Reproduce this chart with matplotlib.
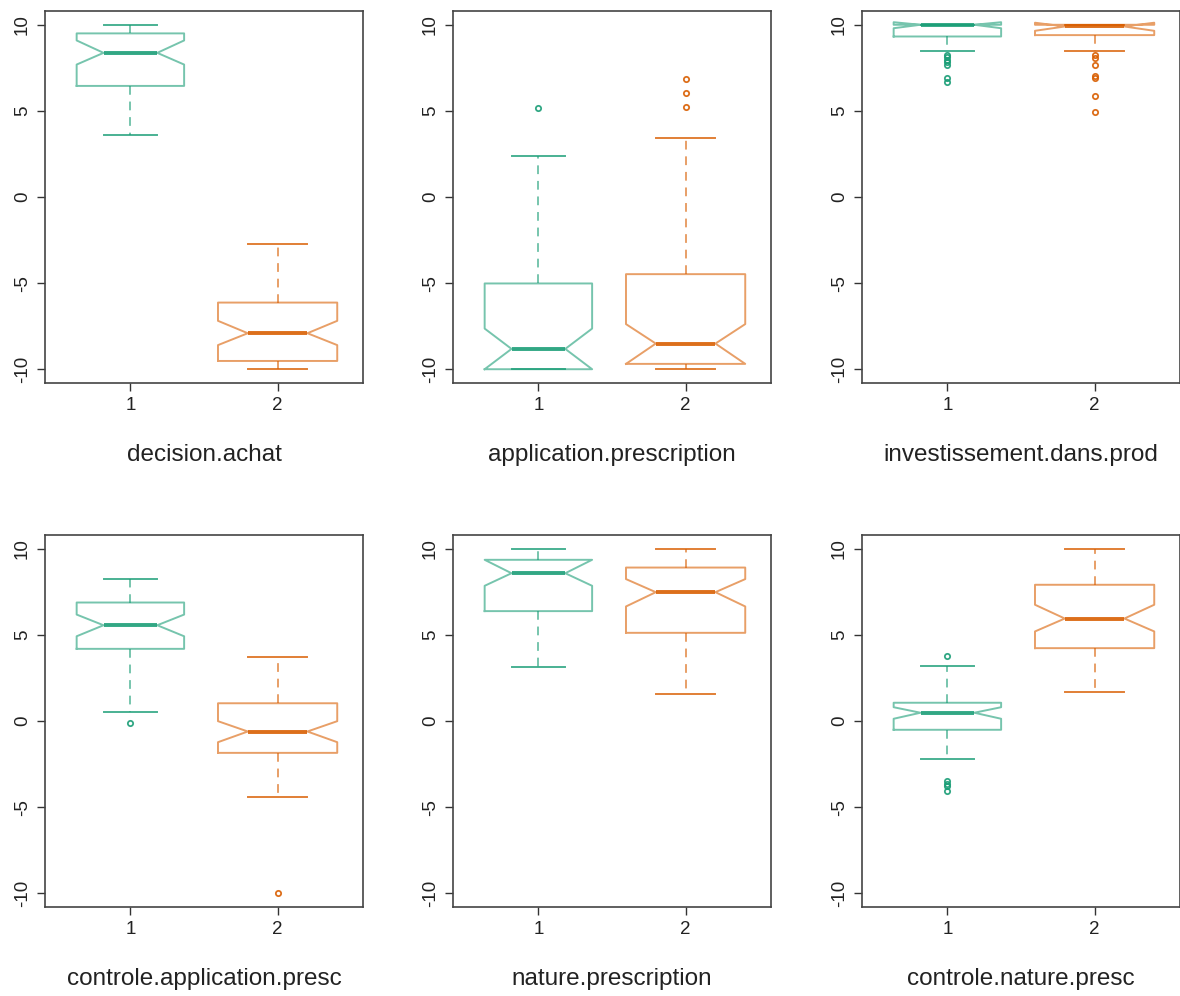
import matplotlib.pyplot as plt
import matplotlib.colors as mcolors

plt.rcParams['font.family'] = ['Liberation Sans', 'DejaVu Sans']

# panel names, in reading order
variables = ['decision.achat', 'application.prescription', 'investissement.dans.prod',
             'controle.application.presc', 'nature.prescription', 'controle.nature.presc']

# box statistics: [group 1, group 2]
medians = [[8.37, -7.91], [-8.82, -8.51], [10.0, 9.9],
           [5.56, -0.61], [8.58, 7.48], [0.48, 5.95]]
q1s = [[6.45, -9.52], [-10.0, -9.69], [9.32, 9.4],
       [4.19, -1.85], [6.38, 5.12], [-0.51, 4.23]]
q3s = [[9.5, -6.13], [-5.02, -4.48], [10.0, 10.0],
       [6.88, 1.03], [9.36, 8.91], [1.06, 7.91]]
whis_lo = [[3.58, -10.0], [-10.0, -10.0], [8.47, 8.47],
           [0.55, -4.40], [3.11, 1.58], [-2.22, 1.67]]
whis_hi = [[10.0, -2.71], [2.40, 3.43], [10.0, 10.0],
           [8.26, 3.71], [10.0, 10.0], [3.18, 10.0]]
notch_lo = [[7.69, -8.6], [-10.0, -9.69], [9.8, 9.65],
            [4.92, -1.23], [7.85, 6.65], [0.13, 5.2]]
notch_hi = [[9.09, -7.19], [-7.64, -7.38], [10.15, 10.12],
            [6.18, -0.01], [9.36, 8.24], [0.8, 6.75]]
outliers = [
    [[], []],
    [[5.17], [6.86, 6.06, 5.25]],
    [[8.22, 8.1, 7.95, 7.85, 7.67, 6.9, 6.66], [8.22, 8.06, 7.67, 7.0, 6.9, 5.85, 4.96]],
    [[-0.10], [-10.0]],
    [[], []],
    [[3.76, -3.51, -3.65, -3.75, -4.09], []],
]

groups = [1, 2]
box_widths = [0.73, 0.81]
colors = ['#1b9e77', '#d95f02']

W, H = 1180, 996
fig = plt.figure(figsize=(W / 100, H / 100), dpi=100)

lefts = [45, 453, 862]
tops = [11, 535]
aw, ah = 318, 372

for i, name in enumerate(variables):
    r, c = divmod(i, 3)
    ax = fig.add_axes([lefts[c] / W, 1 - (tops[r] + ah) / H, aw / W, ah / H])
    stats = []
    for g in range(2):
        stats.append(dict(med=medians[i][g], q1=q1s[i][g], q3=q3s[i][g],
                          whislo=whis_lo[i][g], whishi=whis_hi[i][g],
                          cilo=notch_lo[i][g], cihi=notch_hi[i][g],
                          fliers=outliers[i][g]))
    bp = ax.bxp(stats, positions=groups, widths=box_widths,
                capwidths=[w / 2 for w in box_widths], shownotches=True,
                manage_ticks=False)
    for g in range(2):
        light = mcolors.to_rgba(colors[g], 0.6)
        dark = mcolors.to_rgba(colors[g], 0.9)
        bp['boxes'][g].set(color=light, linewidth=1.4)
        bp['medians'][g].set(color=dark, linewidth=2.8, solid_capstyle='butt')
        for wk in bp['whiskers'][2 * g:2 * g + 2]:
            wk.set(color=light, linewidth=1.4, linestyle=(0, (4.5, 3.5)))
        for cp in bp['caps'][2 * g:2 * g + 2]:
            cp.set(color=dark, linewidth=1.4, alpha=0.8)
        bp['fliers'][g].set(marker='o', markersize=3.8, markerfacecolor='none',
                            markeredgecolor=dark, markeredgewidth=1.3)

    ax.set_xlim(0.42, 2.58)
    ax.set_ylim(-10.8, 10.8)
    ax.set_xticks(groups)
    ax.set_xticklabels([str(g) for g in groups])
    ax.set_yticks([-10, -5, 0, 5, 10])
    ax.set_yticklabels(['-10', '-5', '0', '5', '10'], rotation=90, va='center')
    ax.tick_params(direction='out', length=6, width=1, color='#333333',
                   labelsize=13.5, labelcolor='#222222', pad=4)
    for sp in ax.spines.values():
        sp.set_color('#444444')
        sp.set_linewidth(1.2)
    ax.set_xlabel(name, fontsize=17.5, color='#222222', labelpad=22)

fig.savefig('out.png', dpi=100, facecolor='white')
